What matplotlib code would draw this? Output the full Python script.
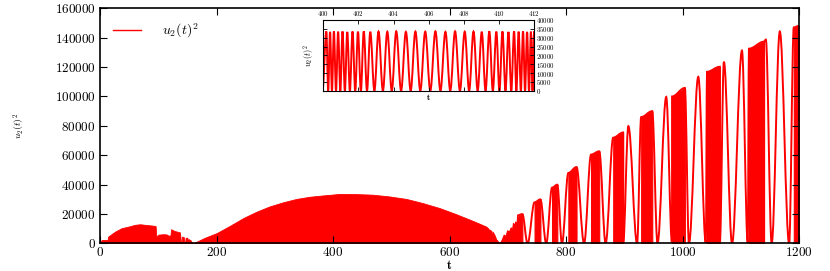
import numpy as np
import matplotlib
matplotlib.use("Agg")
import matplotlib.pyplot as plt
from matplotlib.path import Path
from matplotlib.patches import PathPatch
from matplotlib.lines import Line2D

plt.rcParams['font.family'] = ['cmr10', 'DejaVu Serif']
plt.rcParams['mathtext.fontset'] = 'cm'
plt.rcParams['axes.formatter.use_mathtext'] = True

RED = '#ff0000'

# ---------------- data ----------------
# envelope of the densely oscillating part (solid red area), t in [0, 686]
env_t = [0, 1, 3, 13, 14, 26, 37, 49, 60, 69, 77, 94, 95.5, 96.5, 100, 108, 114, 118,
         121, 122, 128, 137, 138, 139.2, 140.2, 141, 144, 145, 146, 147, 150, 151, 152,
         156, 158, 162, 180, 200, 223, 246, 268, 291, 314, 337, 360, 383, 411, 440, 468,
         497, 526, 554, 583, 611, 640, 663, 667, 667.8, 668.6, 672, 673, 674, 677, 680, 686]
env_v = [0, 1200, 2400, 2400, 4700, 8100, 10400, 11500, 12700, 13100, 12700, 12000, 11800,
         4700, 6000, 6300, 6200, 5300, 5500, 9700, 8500, 7600, 4700, 0, 0, 4700, 4200, 0, 0,
         3900, 3900, 0, 3000, 2000, 0, 500, 3900, 7000, 12000, 17300, 21500, 25200, 28000,
         30300, 31800, 32700, 33700, 33600, 33200, 32000, 30300, 27500, 24100, 20000, 15400,
         11500, 10000, 2500, 9500, 8500, 2000, 8000, 6000, 3000, 0]

# jagged transition part
clut_t = [686, 690, 693, 696, 699, 702, 705, 707, 709, 711, 713, 715, 716]
clut_v = [0, 3000, 6000, 5000, 9000, 8000, 11000, 9000, 14000, 12500, 15000, 12000, 19000]

# blocks of fast oscillation (start, end, top at start, top at end)
blk_t0 = [716, 746, 776, 804, 843, 881, 929, 982, 1042, 1114, 1191]
blk_t1 = [725, 756, 785, 818, 857, 898, 948, 1004, 1064, 1140, 1200]
blk_v0 = [18000, 28000, 38000, 48000, 60500, 72000, 86000, 100000, 116800, 132500, 147000]
blk_v1 = [20000, 30000, 40000, 52000, 62700, 75500, 90000, 105800, 120200, 137300, 148000]

# slow oscillation: successive extrema (t, value)
slow_t = [716, 725, 734, 746, 756, 766, 776, 785, 793, 804, 818, 831, 843, 857, 868, 881,
          898, 898, 907, 922, 929, 948, 957, 972, 982, 982, 1004, 1011, 1027, 1040, 1042,
          1064, 1064, 1071, 1085, 1102, 1112, 1114, 1140, 1143, 1153, 1167, 1183, 1191, 1200]
slow_v = [19000, 20000, 0, 28000, 30000, 0, 38000, 40000, 0, 48000, 52000, 0, 60500, 62700,
          0, 72000, 75500, 0, 79800, 0, 86000, 90000, 0, 99700, 0, 100000, 105800, 0, 113400,
          0, 116800, 120200, 0, 123600, 0, 131200, 0, 132500, 137300, 138700, 0, 144200, 0,
          147000, 148000]

# inset: peak times and heights for 400 <= t <= 412
ins_peak_t = [400.17, 400.38, 400.6, 400.84, 401.09, 401.36, 401.66, 401.97, 402.3, 402.67,
              403.14, 403.64, 404.15, 404.7, 405.24, 405.8, 406.38, 406.95, 407.5, 408.05,
              408.55, 409.02, 409.45, 409.85, 410.2, 410.54, 410.86, 411.12, 411.37, 411.6,
              411.82, 412.0]
ins_peak_v = [33500, 33300, 33600, 33400, 33500, 33300, 33500, 33400, 33600, 33300, 33500,
              33400, 33600, 33300, 33500, 33400, 33600, 33300, 33600, 33400, 33500, 33300,
              33600, 33400, 33500, 33300, 33600, 33400, 33500, 33300, 33400, 33500]

main_xticks = [0, 200, 400, 600, 800, 1000, 1200]
main_yticks = [0, 20000, 40000, 60000, 80000, 100000, 120000, 140000, 160000]
ins_xticks = [400, 402, 404, 406, 408, 410, 412]
ins_yticks = [0, 5000, 10000, 15000, 20000, 25000, 30000, 35000, 40000]


def smooth_path(ts, vs):
    verts = [(ts[0], vs[0])]
    codes = [Path.MOVETO]
    k = 0.3642
    for i in range(1, len(ts)):
        t0, v0, t1, v1 = ts[i - 1], vs[i - 1], ts[i], vs[i]
        d = t1 - t0
        verts += [(t0 + k * d, v0), (t1 - k * d, v1), (t1, v1)]
        codes += [Path.CURVE4] * 3
    return Path(verts, codes)


fig = plt.figure(figsize=(8.30, 2.71), dpi=100)
ax = fig.add_axes([0.1205, 0.1015, 0.8422, 0.868])

ax.fill_between(env_t, 0, env_v, color=RED, lw=0.6, edgecolor=RED)
ax.fill_between(clut_t, 0, clut_v, color=RED, lw=0.8, edgecolor=RED)
for a, b, va, vb in zip(blk_t0, blk_t1, blk_v0, blk_v1):
    ax.fill_between([a, b], [0, 0], [va, vb], color=RED, lw=0.8, edgecolor=RED)
ax.add_patch(PathPatch(smooth_path(slow_t, slow_v), fill=False, edgecolor=RED, lw=1.4))

ax.set_xlim(0, 1200)
ax.set_ylim(0, 160000)
ax.set_xticks(main_xticks)
ax.set_yticks(main_yticks)
ax.tick_params(direction='in', length=5, width=0.8, top=True, right=True,
               labelsize=9.5, pad=3)
ax.tick_params(axis='x', pad=2)
for s in ax.spines.values():
    s.set_linewidth(1.2)
ax.set_xlabel(r'$\mathbf{t}$', fontsize=9)
ax.xaxis.set_label_coords(0.5, -0.066)
ax.set_ylabel(r'$u_2(t)^2$', fontsize=7)
ax.yaxis.set_label_coords(-0.105, 0.5)
ax.legend(handles=[Line2D([], [], color=RED, lw=1.0)], labels=[r'$u_2(t)^2$'],
          loc='upper left', frameon=False, fontsize=10, handlelength=2.0,
          borderaxespad=0.35, borderpad=0.6, handletextpad=1.5)

# inset
ins = fig.add_axes([0.3896, 0.6653, 0.2539, 0.2609])
ins_t = [399.95]
ins_v = [0]
for i, (pt, pv) in enumerate(zip(ins_peak_t, ins_peak_v)):
    ins_t.append(pt)
    ins_v.append(pv)
    if i + 1 < len(ins_peak_t):
        ins_t.append((pt + ins_peak_t[i + 1]) / 2)
        ins_v.append(0)
ins_t.append(412.15)
ins_v.append(0)
ins.add_patch(PathPatch(smooth_path(ins_t, ins_v), fill=False, edgecolor=RED, lw=1.4,
                        clip_on=True))
ins.set_xlim(400, 412)
ins.set_ylim(0, 40000)
ins.set_xticks(ins_xticks)
ins.set_yticks(ins_yticks)
ins.xaxis.tick_top()
ins.yaxis.tick_right()
ins.tick_params(direction='in', length=3, width=0.6, top=True, bottom=True,
                left=True, right=True, labeltop=True, labelbottom=False,
                labelright=True, labelleft=False, labelsize=5, pad=1.5)
for s in ins.spines.values():
    s.set_linewidth(0.8)
ins.set_xlabel(r'$\mathbf{t}$', fontsize=6, labelpad=1)
ins.xaxis.set_label_position('bottom')
ins.set_ylabel(r'$u_2(t)^2$', fontsize=6, labelpad=5)
ins.yaxis.set_label_position('left')

fig.savefig('out.png', dpi=100)
